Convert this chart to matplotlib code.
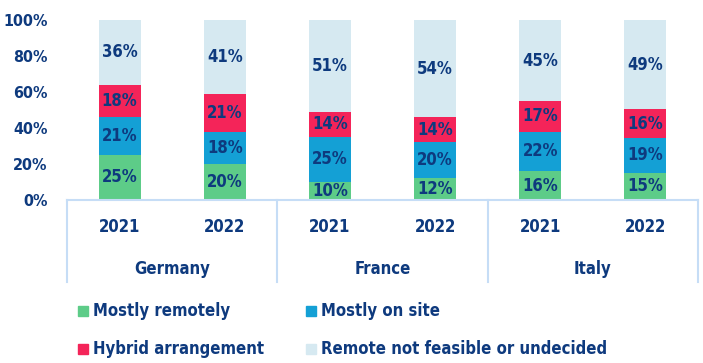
import matplotlib.pyplot as plt
from matplotlib import font_manager
from matplotlib.patches import Rectangle
from matplotlib.transforms import blended_transform_factory
import numpy as np

countries = ["Germany", "France", "Italy"]
years = ["2021", "2022"]
series = ["Mostly remotely", "Mostly on site", "Hybrid arrangement", "Remote not feasible or undecided"]
mostly_remotely = [25, 20, 10, 12, 16, 15]
mostly_on_site = [21, 18, 25, 20, 22, 19]
hybrid = [18, 21, 14, 14, 17, 16]
not_feasible = [36, 41, 51, 54, 45, 49]
y_ticks = [0, 20, 40, 60, 80, 100]

colors = ["#5dcc88", "#14a0d5", "#f42459", "#d6e9f1"]
text_color = "#0e3a7e"
line_color = "#c6ddf6"


def pick_font():
    # a bold condensed face looks closest to the original; fall back to Liberation Sans
    found = []
    for f in font_manager.fontManager.ttflist:
        n = f.fname.lower()
        if ("narrow" in n or "condensed" in n) and "bold" in n and "oblique" not in n and "italic" not in n:
            found.append(f.fname)
    found.sort(key=lambda p: ("liberation" not in p.lower(), "dejavu" not in p.lower(), p))
    if found:
        return font_manager.FontProperties(fname=found[0]), True
    return font_manager.FontProperties(family="Liberation Sans", weight="bold"), False


base_fp, condensed = pick_font()
FS = 12 if condensed else 11.5
TICK_FS = 11.5 if condensed else 11


def fp(size):
    p = base_fp.copy()
    p.set_size(size)
    return p


fig = plt.figure(figsize=(7.03, 3.63), dpi=100)
ax = fig.add_axes([67 / 703, 1 - 200 / 363, 631 / 703, 180 / 363])

all_series = [mostly_remotely, mostly_on_site, hybrid, not_feasible]
totals = np.sum(np.array(all_series, dtype=float), axis=0)
x = np.arange(len(mostly_remotely))
bottom = np.zeros(len(x))
for vals, col in zip(all_series, colors):
    vals = np.array(vals, dtype=float)
    # stacked shares of 100% (rounded labels may not add up exactly)
    h = vals / totals * 100
    ax.bar(x, h, bottom=bottom, width=0.4, color=col, zorder=2)
    for xi, b, hv, v in zip(x, bottom, h, vals):
        ax.text(xi, b + hv / 2, f"{int(v)}%", ha="center", va="center",
                color=text_color, fontproperties=fp(FS), zorder=3)
    bottom += h

ax.set_xlim(-0.5, 5.5)
ax.set_ylim(0, 100)
ax.set_yticks(y_ticks)
ax.set_yticklabels([f"{t}%" for t in y_ticks], color=text_color, fontproperties=fp(TICK_FS))
ax.tick_params(axis="y", length=0, pad=14)
ax.set_xticks([])
for s in ax.spines.values():
    s.set_visible(False)

# category box under the bars
tr = blended_transform_factory(ax.transData, ax.transAxes)
box_bottom = -82 / 180
ax.plot([-0.5, 5.5], [0, 0], color=line_color, lw=1.5, transform=tr, clip_on=False)
for xv in [-0.5, 1.5, 3.5, 5.5]:
    ax.plot([xv, xv], [0, box_bottom], color=line_color, lw=1.5, transform=tr, clip_on=False)
for i, xi in enumerate(x):
    ax.text(xi, -27 / 180, years[i % 2], ha="center", va="center", transform=tr,
            color=text_color, fontproperties=fp(FS))
for i, c in enumerate(countries):
    ax.text(2 * i + 0.5, -69 / 180, c, ha="center", va="center", transform=tr,
            color=text_color, fontproperties=fp(FS))

# legend
W, H = 703, 363
leg_pos = [(83, 311), (311, 311), (83, 349), (311, 349)]
for (px, py), lab, col in zip(leg_pos, series, colors):
    fig.patches.append(Rectangle(((px - 5) / W, 1 - (py + 5) / H), 10 / W, 10 / H,
                                 transform=fig.transFigure, color=col))
    fig.text((px + 10) / W, 1 - py / H, lab, ha="left", va="center",
             color=text_color, fontproperties=fp(FS))

fig.savefig("out.png", dpi=100)
